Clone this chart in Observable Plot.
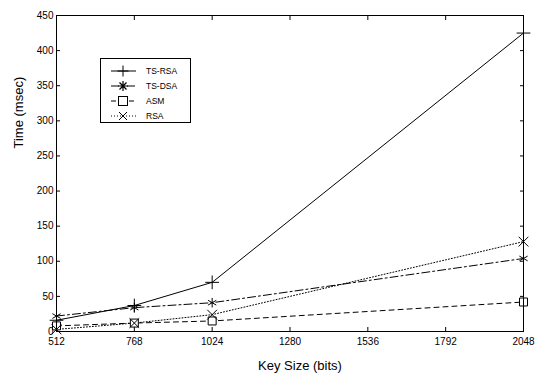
<!DOCTYPE html>
<html>
<head>
<meta charset="utf-8">
<script src="https://cdn.jsdelivr.net/npm/d3@7"></script>
<script src="https://cdn.jsdelivr.net/npm/@observablehq/plot@0.6"></script>
<style>
  body { margin: 0; background: white; font-family: "Liberation Sans", Arial, sans-serif; }
  #wrap { position: relative; width: 537px; height: 376px; }
  #legend { position: absolute; left: 0; top: 0; }
</style>
</head>
<body>
<div id="wrap"></div>
<script>
const keySizes = [512, 768, 1024, 2048];
const tsRsa = [16, 37, 70, 425];
const tsDsa = [22, 34, 41, 104];
const asm = [8, 12, 15, 42];
const rsa = [3, 12, 24, 128];
const xTicks = [512, 768, 1024, 1280, 1536, 1792, 2048];
const yTicks = [0, 50, 100, 150, 200, 250, 300, 350, 400, 450];
const seriesNames = ["TS-RSA", "TS-DSA", "ASM", "RSA"];

const styles = {
  "TS-RSA": {dash: null, symbol: "plus"},
  "TS-DSA": {dash: "8,3,2,3", symbol: "asterisk"},
  "ASM": {dash: "5,4", symbol: "square"},
  "RSA": {dash: "1,2", symbol: "times"}
};
const seriesValues = {"TS-RSA": tsRsa, "TS-DSA": tsDsa, "ASM": asm, "RSA": rsa};
const rows = seriesNames.flatMap(name => keySizes.map((k, i) => ({series: name, key: k, time: seriesValues[name][i]})));

const font = '"Liberation Sans", Arial, sans-serif';
const lineMarks = seriesNames.map(name => Plot.line(rows.filter(d => d.series === name), {
  x: "key", y: "time", stroke: "black", strokeWidth: 1,
  strokeDasharray: styles[name].dash || undefined
}));
const dotMarks = seriesNames.map(name => Plot.dot(rows.filter(d => d.series === name), {
  x: "key", y: "time", symbol: () => styles[name].symbol, r: 4.5,
  stroke: "black", strokeWidth: 1, fill: name === "ASM" ? "white" : "none"
}));

const chart = Plot.plot({
  width: 537, height: 376,
  marginLeft: 56, marginRight: 14, marginTop: 15, marginBottom: 45,
  style: {fontFamily: font, background: "white", color: "black"},
  x: {domain: [512, 2048]},
  y: {domain: [0, 450]},
  symbol: {type: "identity"},
  marks: [
    Plot.axisX({ticks: xTicks, tickFormat: "d", tickSize: -4, tickPadding: 10, label: null, fontSize: 10, anchor: "bottom"}),
    Plot.axisX({ticks: xTicks, tickSize: -4, tickFormat: () => "", label: null, anchor: "top"}),
    Plot.axisY({ticks: yTicks, tickFormat: "d", tickSize: -4, tickPadding: 7, label: null, fontSize: 10, anchor: "left"}),
    Plot.axisY({ticks: yTicks, tickSize: -4, tickFormat: () => "", label: null, anchor: "right"}),
    ...lineMarks,
    ...dotMarks,
    Plot.frame({stroke: "black", strokeWidth: 1}),
    Plot.text(["Key Size (bits)"], {frameAnchor: "bottom", dx: 10, dy: 38, fontSize: 13, text: d => d}),
    Plot.text(["Time (msec)"], {frameAnchor: "left", dx: -38, dy: -25, rotate: -90, fontSize: 13, text: d => d})
  ]
});
document.getElementById("wrap").appendChild(chart);

// legend overlay
const leg = d3.select("#wrap").append("svg").attr("id", "legend")
  .attr("width", 537).attr("height", 376);
leg.append("rect").attr("x", 100.5).attr("y", 58.5).attr("width", 90).attr("height", 64)
  .attr("fill", "white").attr("stroke", "black").attr("stroke-width", 1);
seriesNames.forEach((name, i) => {
  const y = 71 + i * 15;
  leg.append("line").attr("x1", 111).attr("x2", 136).attr("y1", y).attr("y2", y)
    .attr("stroke", "black").attr("stroke-width", 1)
    .attr("stroke-dasharray", styles[name].dash);
  const g = leg.append("g").attr("transform", `translate(123,${y})`);
  const sym = styles[name].symbol;
  if (sym === "plus") {
    g.append("path").attr("d", "M-5.5,0H5.5M0,-5.5V5.5").attr("stroke", "black").attr("fill", "none");
  } else if (sym === "asterisk") {
    g.append("path").attr("d", "M-5,0H5M0,-5V5M-3.5,-3.5L3.5,3.5M-3.5,3.5L3.5,-3.5").attr("stroke", "black").attr("stroke-width", 1.2).attr("fill", "none");
  } else if (sym === "square") {
    g.append("rect").attr("x", -4.5).attr("y", -4.5).attr("width", 9).attr("height", 9).attr("fill", "white").attr("stroke", "black");
  } else {
    g.append("path").attr("d", "M-4,-4L4,4M-4,4L4,-4").attr("stroke", "black").attr("fill", "none");
  }
  leg.append("text").attr("x", 146).attr("y", y).attr("dy", "0.35em")
    .attr("font-size", 8.5).attr("font-family", font).text(name);
});
</script>
</body>
</html>
